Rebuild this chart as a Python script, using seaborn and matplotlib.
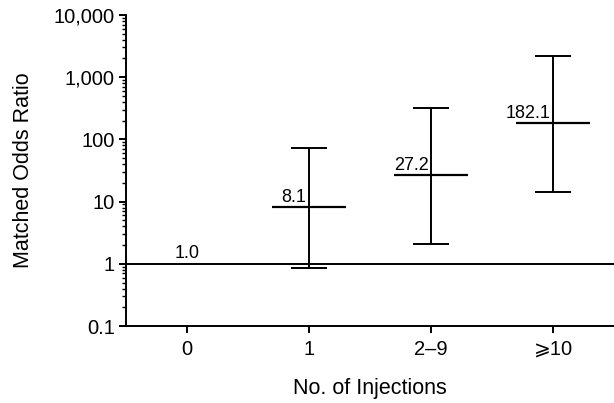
import seaborn as sns
import matplotlib.pyplot as plt
from matplotlib.ticker import FixedLocator, LogLocator, NullFormatter

# odds ratios by number of injections
categories = ["0", "1", "2–9", "⩾10"]
odds = [1.0, 8.1, 27.2, 182.1]
ci_low = [None, 0.87, 2.1, 14.0]
ci_high = [None, 73.0, 320.0, 2150.0]
labels = ["1.0", "8.1", "27.2", "182.1"]

sns.set_style("ticks")
plt.rcParams["font.family"] = ["Liberation Sans", "DejaVu Sans"]
plt.rcParams["text.color"] = "black"
plt.rcParams["axes.labelcolor"] = "black"

fig = plt.figure(figsize=(6.14, 4.03), dpi=100)
ax = fig.add_axes([0.205, 0.191, 0.795, 0.772])

# reference line at OR = 1
ax.axhline(1, color="black", lw=1.4)

pos = list(range(len(categories)))
for i in pos[1:]:
    ax.errorbar(i, odds[i],
                yerr=[[odds[i] - ci_low[i]], [ci_high[i] - odds[i]]],
                fmt="none", ecolor="black", elinewidth=1.4,
                capsize=13, capthick=1.4)
    ax.hlines(odds[i], i - 0.3, i + 0.3, color="black", lw=1.6)
    ax.text(i - 0.02, odds[i] * 1.03, labels[i], ha="right", va="bottom",
            fontsize=13)
ax.text(0, 1.06, labels[0], ha="center", va="bottom", fontsize=13)

ax.set_yscale("log")
ax.set_ylim(0.1, 10000)
ax.set_xlim(-0.5, 3.5)
yt = [0.1, 1, 10, 100, 1000, 10000]
ax.yaxis.set_major_locator(FixedLocator(yt))
ax.set_yticklabels(["0.1", "1", "10", "100", "1,000", "10,000"])
ax.yaxis.set_minor_locator(LogLocator(base=10, subs=range(2, 10)))
ax.yaxis.set_minor_formatter(NullFormatter())
ax.set_xticks(pos)
ax.set_xticklabels(categories)

ax.tick_params(axis="both", which="major", length=5, width=1.4,
               color="black", labelsize=14.5, labelcolor="black")
ax.tick_params(axis="y", which="minor", length=3, width=1.0, color="black")
ax.tick_params(axis="x", pad=5)
ax.tick_params(axis="y", pad=3)
for s in ["left", "bottom"]:
    ax.spines[s].set_linewidth(1.4)
    ax.spines[s].set_color("black")
sns.despine(ax=ax)

ax.set_xlabel("No. of Injections", fontsize=15.5, labelpad=14)
ax.set_ylabel("Matched Odds Ratio", fontsize=15.5, labelpad=14)

fig.savefig("out.png", dpi=100)
